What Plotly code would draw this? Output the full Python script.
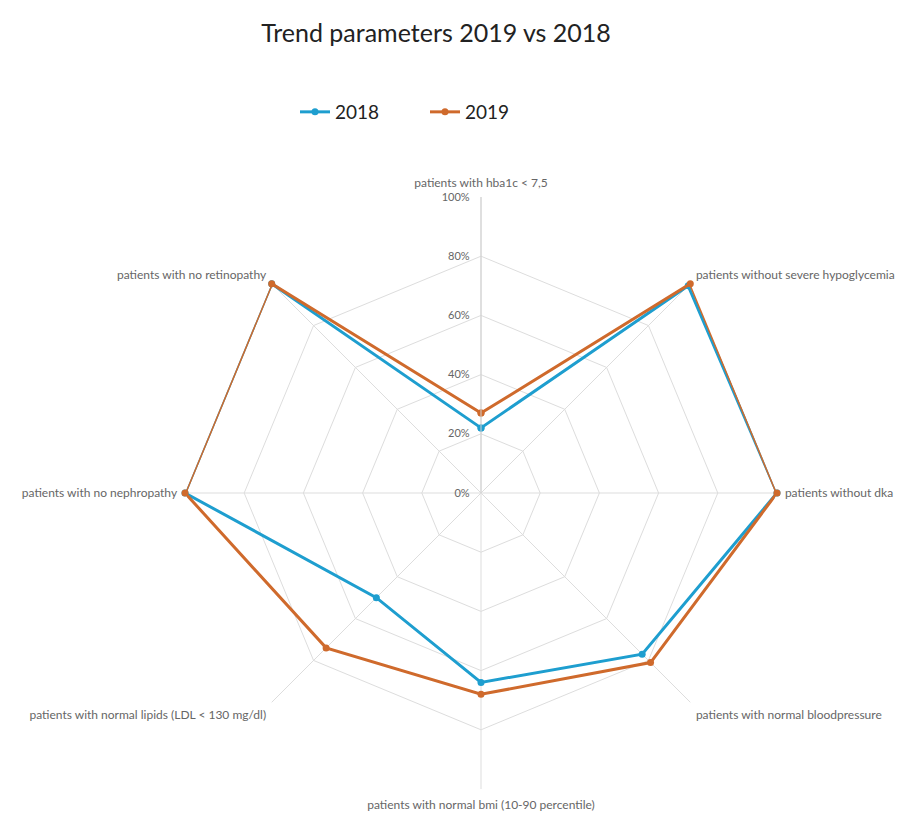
import plotly.graph_objects as go

categories = [
    "patients with hba1c < 7,5",
    "patients without severe hypoglycemia",
    "patients without dka",
    "patients with normal bloodpressure",
    "patients with normal bmi (10-90 percentile)",
    "patients with normal lipids (LDL < 130 mg/dl)",
    "patients with no nephropathy",
    "patients with no retinopathy",
]
values_2018 = [22, 99, 100, 77, 64, 50, 100, 100]
values_2019 = [27, 100, 100, 81, 68, 74, 100, 100]
radial_ticks = [0, 20, 40, 60, 80, 100]
radial_tick_labels = ["0%", "20%", "40%", "60%", "80%", "100%"]

BLUE = "#1e9ecf"
ORANGE = "#cf6a2c"

fig = go.Figure()
for name, vals, col in [("2018", values_2018, BLUE), ("2019", values_2019, ORANGE)]:
    fig.add_trace(go.Scatterpolar(
        r=vals + vals[:1],
        theta=categories + categories[:1],
        mode="lines+markers",
        name=name,
        line=dict(color=col, width=3),
        marker=dict(color=col, size=7),
    ))

W, H = 909, 837
OFF = 8  # page body margin
cx, cy, R = 481 - OFF, 493 - OFF, 296
fig.update_layout(
    width=W, height=H,
    margin=dict(l=0, r=0, t=0, b=0),
    paper_bgcolor="white",
    plot_bgcolor="white",
    font=dict(family="Lato, Open Sans, sans-serif", color="#555555"),
    title=dict(text="Trend parameters 2019 vs 2018", x=(436 - OFF) / W, xanchor="center",
               y=1 - (33 - OFF) / H, yanchor="middle",
               font=dict(size=25, color="#222222", family="Lato, Open Sans, sans-serif")),
    legend=dict(orientation="h", x=(295 - OFF) / W, y=1 - (112 - OFF) / H,
                xanchor="left", yanchor="middle",
                font=dict(size=19, color="#222222"),
                entrywidth=85, entrywidthmode="pixels"),
    polar=dict(
        domain=dict(x=[(cx - R) / W, (cx + R) / W], y=[(H - cy - R) / H, (H - cy + R) / H]),
        bgcolor="white",
        gridshape="linear",
        angularaxis=dict(
            direction="clockwise", rotation=90,
            showline=False,
            gridcolor="#dddddd", gridwidth=1,
            tickfont=dict(size=12, color="#666666"),
            ticks="outside", ticklen=5, tickcolor="rgba(0,0,0,0)",
        ),
        radialaxis=dict(
            range=[0, 100], angle=90, side="counterclockwise",
            tickvals=radial_ticks, ticktext=radial_tick_labels,
            tickfont=dict(size=11, color="#666666"),
            showline=True, linecolor="#d0d0d0",
            gridcolor="#dddddd", gridwidth=1,
            ticks="outside", ticklen=7, tickcolor="rgba(0,0,0,0)", tickangle=90,
        ),
    ),
)

fig.write_html("out.html")
